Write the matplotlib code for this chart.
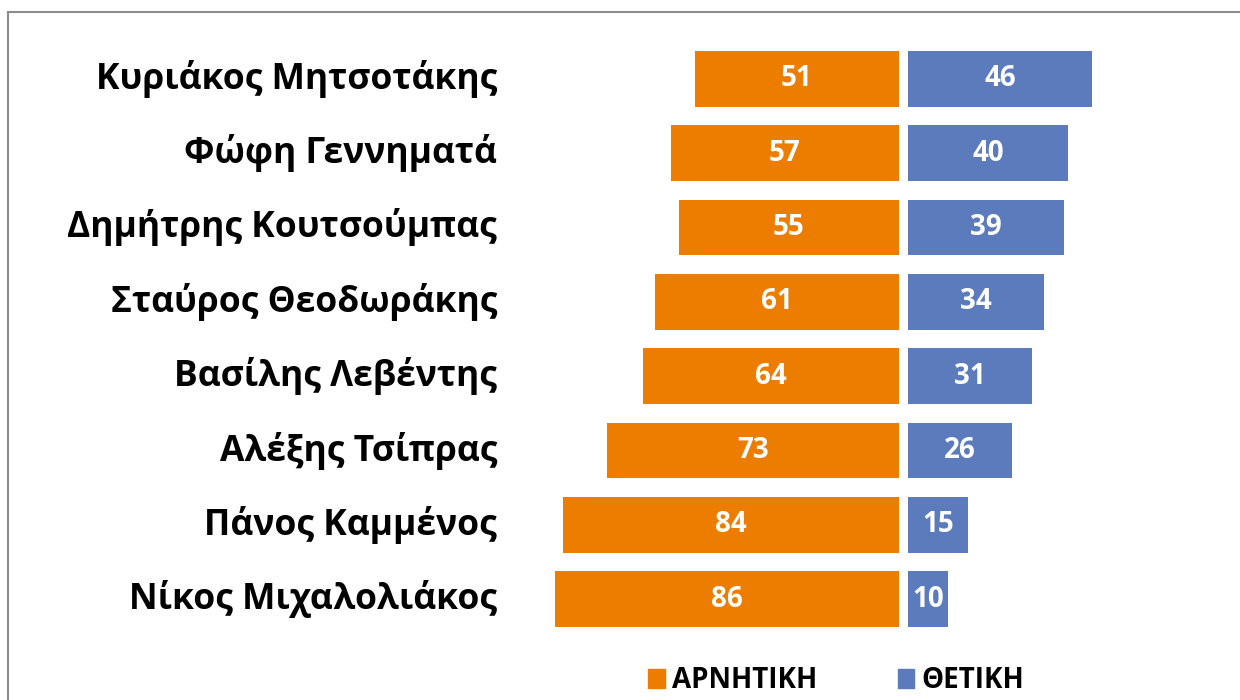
import matplotlib.pyplot as plt
from matplotlib.patches import Rectangle, Patch

names = ["Κυριάκος Μητσοτάκης", "Φώφη Γεννηματά", "Δημήτρης Κουτσούμπας",
         "Σταύρος Θεοδωράκης", "Βασίλης Λεβέντης", "Αλέξης Τσίπρας",
         "Πάνος Καμμένος", "Νίκος Μιχαλολιάκος"]
negative = [51, 57, 55, 61, 64, 73, 84, 86]
positive = [46, 40, 39, 34, 31, 26, 15, 10]
series_labels = ["ΑΡΝΗΤΙΚΗ", "ΘΕΤΙΚΗ"]

orange = "#ED7D00"
blue = "#5B7BBD"
font = ["Open Sans", "DejaVu Sans"]

W, H = 1240, 700
fig = plt.figure(figsize=(W / 100, H / 100), dpi=100)

# grey frame, cut off on the right and bottom like the source
fig.patches.append(Rectangle((8 / W, -0.05), 1.2, 1 - 12 / H + 0.05,
                             transform=fig.transFigure, fill=False,
                             edgecolor="#8c8c8c", linewidth=1.5))

# axes placed in pixels: 4 px per unit, centre gap at x=903.5
ax_l, ax_r = 520, 1220
ax_b, ax_t = 638, 40
centre = 903.5
ax = fig.add_axes([ax_l / W, 1 - ax_b / H, (ax_r - ax_l) / W, (ax_b - ax_t) / H])
ax.set_xlim(-(centre - ax_l) / 4, (ax_r - centre) / 4)

gap = 1.125
ys = list(range(len(names)))
ax.barh(ys, [-v for v in negative], left=-gap, height=0.75, color=orange)
ax.barh(ys, positive, left=gap, height=0.75, color=blue)
ax.set_ylim(len(names) - 0.5 + 0.02, -0.5 - 0.02)

for y, n, p in zip(ys, negative, positive):
    ax.text(-gap - n / 2, y, str(n), ha="center", va="center", color="white",
            fontsize=20, fontweight="bold", family=font)
    ax.text(gap + p / 2, y, str(p), ha="center", va="center", color="white",
            fontsize=20, fontweight="bold", family=font)

for y, name in zip(ys, names):
    ax.annotate(name, xy=(0, y), xycoords=("figure fraction", "data"),
                xytext=(497 * 72 / 100, 0), textcoords="offset points",
                ha="right", va="center", fontsize=25.5, fontweight="bold",
                family=font, color="black")

ax.axis("off")

handles = [Patch(color=orange), Patch(color=blue)]
fig.legend(handles, series_labels, loc="center", bbox_to_anchor=(836 / W, 1 - 681 / H),
           ncol=2, frameon=False, handlelength=0.61, handleheight=0.68,
           handletextpad=0.25, columnspacing=2.9,
           prop={"family": font, "weight": "bold", "size": 20})

fig.savefig("out.png", dpi=100)
